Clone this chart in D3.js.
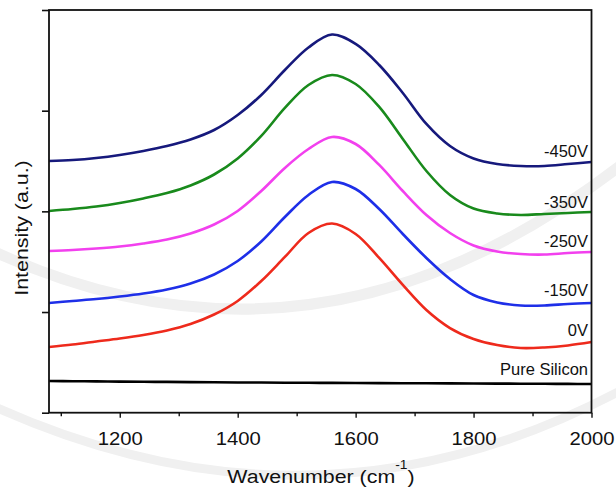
<!DOCTYPE html>
<html>
<head>
<meta charset="utf-8">
<script src="https://cdn.jsdelivr.net/npm/d3@7"></script>
<style>
  html, body { margin: 0; padding: 0; background: #fff; }
  svg { display: block; }
  text { font-family: "Liberation Sans", Arial, Helvetica, sans-serif; fill: #111; }
</style>
</head>
<body>
<svg id="chart" width="616" height="494"></svg>
<script>
// ---- data ----
const wavenumbers = [1080,1120,1160,1200,1240,1280,1320,1360,1400,1440,1480,1520,1560,1600,1640,1680,1720,1760,1800,1840,1880,1920,1960,2000];
const pureSilicon = [0.315,0.313,0.311,0.309,0.307,0.306,0.304,0.302,0.300,0.300,0.298,0.297,0.296,0.295,0.294,0.293,0.292,0.291,0.290,0.289,0.288,0.287,0.286,0.285];
const v0   = [0.653,0.677,0.707,0.737,0.772,0.817,0.881,0.975,1.110,1.308,1.547,1.785,1.879,1.775,1.537,1.269,1.020,0.841,0.732,0.672,0.643,0.648,0.668,0.702];
const v150 = [1.090,1.110,1.129,1.154,1.184,1.224,1.283,1.373,1.507,1.701,1.944,2.163,2.292,2.222,2.023,1.775,1.537,1.328,1.169,1.095,1.065,1.065,1.080,1.090];
const v250 = [1.606,1.616,1.631,1.651,1.681,1.720,1.780,1.869,2.004,2.202,2.431,2.619,2.739,2.669,2.461,2.202,1.964,1.785,1.661,1.601,1.576,1.571,1.586,1.596];
const v350 = [2.004,2.023,2.048,2.083,2.128,2.182,2.257,2.366,2.525,2.749,3.027,3.255,3.355,3.265,3.037,2.719,2.401,2.163,2.028,1.979,1.964,1.974,1.984,1.994];
const v450 = [2.500,2.510,2.530,2.560,2.600,2.649,2.714,2.808,2.957,3.156,3.404,3.628,3.757,3.663,3.454,3.176,2.868,2.649,2.525,2.470,2.451,2.451,2.470,2.490];
const seriesNames  = ["Pure Silicon","0V","-150V","-250V","-350V","-450V"];
const seriesValues = [pureSilicon, v0, v150, v250, v350, v450];
const seriesColors = ["#000000","#ee2a1c","#1e2fe8","#f240ee","#198a1c","#16197c"];
const xTickValues = [1200,1400,1600,1800,2000];
const xMinorTicks = [1100,1300,1500,1700,1900];
const yTickValues = [0,1,2,3,4];

// ---- layout ----
const svg = d3.select("#chart");
const L = 49, R = 591.5, T = 10, B = 412.7;
const x = d3.scaleLinear().domain([1080, 2000]).range([L, R]);
const y = d3.scaleLinear().domain([0, 4]).range([B, T]);

// faint watermark-like rings behind the data
const wm = svg.append("g").attr("fill", "none").attr("stroke", "#f0f0f0").attr("stroke-width", 11);
wm.append("path").attr("d", "M -20 245 Q 320 410 640 150");
wm.append("path").attr("d", "M -20 400 Q 320 560 640 380").attr("stroke-width", 9);

svg.append("defs").append("clipPath").attr("id", "plotclip")
  .append("rect").attr("x", L).attr("y", T).attr("width", R - L).attr("height", B - T);

const line = d3.line().x(d => x(d[0])).y(d => y(d[1])).curve(d3.curveCatmullRom.alpha(0.5));
const plot = svg.append("g").attr("clip-path", "url(#plotclip)");
seriesValues.forEach((vals, i) => {
  plot.append("path")
    .datum(wavenumbers.map((w, j) => [w, vals[j]]))
    .attr("fill", "none")
    .attr("stroke", seriesColors[i])
    .attr("stroke-width", 2.6)
    .attr("stroke-linejoin", "round")
    .attr("d", line);
});

// ---- axes ----
const xAxis = svg.append("g").attr("transform", `translate(0,${B})`)
  .call(d3.axisBottom(x).tickValues(xTickValues).tickSize(5).tickPadding(14).tickFormat(d3.format("d")));
xAxis.select(".domain").remove();
xAxis.selectAll(".tick line").attr("stroke", "#111").attr("stroke-width", 1.4);
xAxis.selectAll(".tick text").attr("font-size", 18.6).attr("transform", "scale(1.09,1)")
  .attr("font-family", "Liberation Sans, Arial, sans-serif").attr("fill", "#111");

const xMinor = svg.append("g").attr("transform", `translate(0,${B})`)
  .call(d3.axisBottom(x).tickValues(xMinorTicks).tickSize(3.5).tickFormat(""));
xMinor.select(".domain").remove();
xMinor.selectAll(".tick line").attr("stroke", "#111").attr("stroke-width", 1.4);

const yAxis = svg.append("g").attr("transform", `translate(${L},0)`)
  .call(d3.axisLeft(y).tickValues(yTickValues).tickSize(7).tickFormat(""));
yAxis.select(".domain").remove();
yAxis.selectAll(".tick line").attr("stroke", "#111").attr("stroke-width", 1.6);

// frame
svg.append("rect").attr("x", L).attr("y", T).attr("width", R - L).attr("height", B - T)
  .attr("fill", "none").attr("stroke", "#111").attr("stroke-width", 1.8);

// ---- curve labels ----
const labelBaselines = [375, 336, 295.5, 246.5, 208, 156.5];
seriesNames.forEach((n, i) => {
  svg.append("text")
    .attr("x", 588).attr("y", labelBaselines[i])
    .attr("text-anchor", "end")
    .attr("font-size", 16.5)
    .text(n);
});

// ---- axis titles ----
const xt = svg.append("g").attr("transform", "translate(321,483) scale(1.15,1)")
  .append("text").attr("text-anchor", "middle").attr("font-size", 18.6);
xt.append("tspan").text("Wavenumber (cm");
xt.append("tspan").attr("font-size", 12).attr("dy", -14).text("-1");
xt.append("tspan").attr("dy", 14).text(")");

svg.append("g").attr("transform", "translate(28,228) rotate(-90) scale(1.15,1)")
  .append("text").attr("text-anchor", "middle").attr("font-size", 18.6)
  .text("Intensity (a.u.)");
</script>
</body>
</html>
